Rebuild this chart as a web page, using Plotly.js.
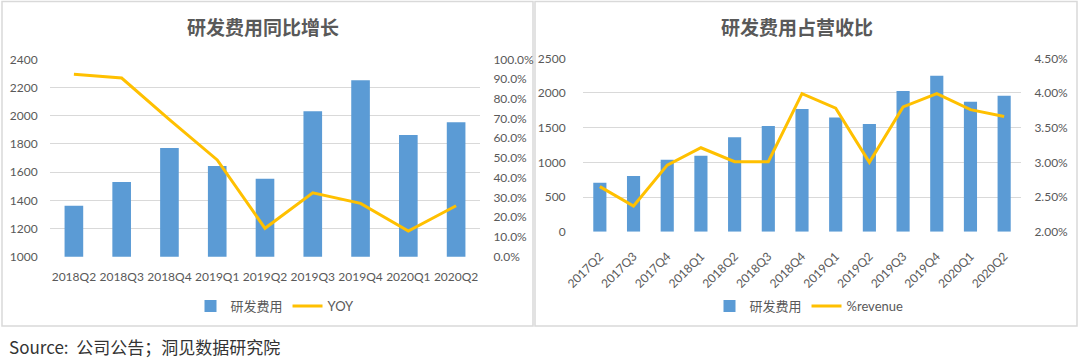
<!DOCTYPE html>
<html>
<head>
<meta charset="utf-8">
<script src="https://cdn.plot.ly/plotly-3.0.1.min.js"></script>
<style>
html,body{margin:0;padding:0;background:#fff;}
#chart{width:1080px;height:359px;}
</style>
</head>
<body>
<div id="chart"></div>
<script>
// Left chart: 研发费用同比增长
const leftCategories = ['2018Q2','2018Q3','2018Q4','2019Q1','2019Q2','2019Q3','2019Q4','2020Q1','2020Q2'];
const leftRnd = [1362, 1530, 1771, 1643, 1553, 2031, 2251, 1863, 1953];
const leftYoy = [0.924, 0.905, 0.695, 0.49, 0.144, 0.324, 0.27, 0.13, 0.258];

// Right chart: 研发费用占营收比
const rightCategories = ['2017Q2','2017Q3','2017Q4','2018Q1','2018Q2','2018Q3','2018Q4','2019Q1','2019Q2','2019Q3','2019Q4','2020Q1','2020Q2'];
const rightRnd = [707, 803, 1038, 1096, 1361, 1524, 1768, 1646, 1554, 2027, 2249, 1873, 1959];
const rightRevenuePct = [0.0265, 0.0237, 0.0296, 0.0321, 0.0301, 0.0301, 0.0399, 0.0378, 0.0300, 0.0380, 0.0399, 0.0376, 0.0366];

const leftTitle = '研发费用同比增长';
const rightTitle = '研发费用占营收比';
const barName = '研发费用';
const yoyName = 'YOY';
const pctName = '%revenue';
const sourceText = 'Source:  公司公告；洞见数据研究院';

const BLUE = '#5B9BD5';
const GOLD = '#FFC000';
const TXT = '#595959';
const GRID = '#d9d9d9';
const FONT = 'Lato, "Noto Sans CJK SC", sans-serif';

const W = 1080, H = 359;
const px = x => x / W;
const py = y => 1 - y / H;

const traces = [
  {type:'bar', x:leftCategories, y:leftRnd, name:barName, marker:{color:BLUE},
   xaxis:'x', yaxis:'y', legend:'legend'},
  {type:'scatter', mode:'lines', x:leftCategories, y:leftYoy, name:yoyName,
   line:{color:GOLD, width:3}, xaxis:'x', yaxis:'y2', legend:'legend'},
  {type:'bar', x:rightCategories, y:rightRnd, name:barName, marker:{color:BLUE},
   xaxis:'x2', yaxis:'y3', legend:'legend2'},
  {type:'scatter', mode:'lines', x:rightCategories, y:rightRevenuePct, name:pctName,
   line:{color:GOLD, width:3}, xaxis:'x2', yaxis:'y4', legend:'legend2'}
];

const tickFont = {family:FONT, size:12, color:TXT};

const layout = {
  width:W, height:H,
  margin:{l:0, r:0, t:0, b:0},
  paper_bgcolor:'#fff', plot_bgcolor:'rgba(0,0,0,0)',
  showlegend:true,
  bargap:0.61,
  font:{family:FONT, color:TXT},
  xaxis:{domain:[px(50), px(480)], anchor:'y', type:'category', showgrid:false, zeroline:false,
    showline:false, ticks:'outside', ticklen:9, tickcolor:'rgba(0,0,0,0)', tickfont:tickFont, tickangle:0},
  yaxis:{domain:[py(256.7), py(59.3)], anchor:'x', range:[1000,2400], dtick:200,
    showgrid:true, gridcolor:GRID, gridwidth:1, zeroline:false, showline:false,
    ticks:'outside', ticklen:9, tickcolor:'rgba(0,0,0,0)', tickfont:tickFont},
  yaxis2:{overlaying:'y', side:'right', anchor:'x', range:[0,1], dtick:0.1, tickformat:'.1%',
    showgrid:false, zeroline:false, showline:false,
    ticks:'outside', ticklen:10, tickcolor:'rgba(0,0,0,0)', tickfont:tickFont},
  xaxis2:{domain:[px(583), px(1021)], anchor:'y3', type:'category', showgrid:false, zeroline:false,
    showline:false, ticks:'outside', ticklen:12, tickcolor:'rgba(0,0,0,0)', tickfont:tickFont, tickangle:-45},
  yaxis3:{domain:[py(231.7), py(58.3)], anchor:'x2', range:[0,2500], dtick:500,
    showgrid:true, gridcolor:GRID, gridwidth:1, zeroline:false, showline:false,
    ticks:'outside', ticklen:14, tickcolor:'rgba(0,0,0,0)', tickfont:tickFont},
  yaxis4:{overlaying:'y3', side:'right', anchor:'x2', range:[0.02,0.045], dtick:0.005, tickformat:'.2%',
    showgrid:false, zeroline:false, showline:false,
    ticks:'outside', ticklen:10, tickcolor:'rgba(0,0,0,0)', tickfont:tickFont},
  legend:{orientation:'h', x:px(275), xanchor:'center', y:py(306), yanchor:'middle',
    font:{family:FONT, size:13, color:TXT}, bgcolor:'rgba(0,0,0,0)', traceorder:'normal'},
  legend2:{orientation:'h', x:px(809), xanchor:'center', y:py(306), yanchor:'middle',
    font:{family:FONT, size:13, color:TXT}, bgcolor:'rgba(0,0,0,0)', traceorder:'normal'},
  annotations:[
    {text:leftTitle, xref:'paper', yref:'paper', x:px(263), y:py(27), xanchor:'center', yanchor:'middle',
     showarrow:false, font:{family:'"Noto Sans CJK SC", sans-serif', size:19, color:TXT, weight:'bold'}},
    {text:rightTitle, xref:'paper', yref:'paper', x:px(797), y:py(27), xanchor:'center', yanchor:'middle',
     showarrow:false, font:{family:'"Noto Sans CJK SC", sans-serif', size:19, color:TXT, weight:'bold'}},
    {text:sourceText, xref:'paper', yref:'paper', x:px(8), y:py(346), xanchor:'left', yanchor:'middle',
     borderpad:0, showarrow:false, font:{family:'"Noto Sans CJK SC", sans-serif', size:17, color:'#333333'}}
  ],
  shapes:[
    {type:'rect', xref:'paper', yref:'paper', x0:px(2), x1:px(533), y0:py(326), y1:py(1.5),
     line:{color:'#d9d9d9', width:1.5}, fillcolor:'rgba(0,0,0,0)', layer:'below'},
    {type:'rect', xref:'paper', yref:'paper', x0:px(535), x1:px(1077), y0:py(326), y1:py(1.5),
     line:{color:'#d9d9d9', width:1.5}, fillcolor:'rgba(0,0,0,0)', layer:'below'}
  ]
};

Plotly.newPlot('chart', traces, layout, {staticPlot:true, displayModeBar:false});
</script>
</body>
</html>
